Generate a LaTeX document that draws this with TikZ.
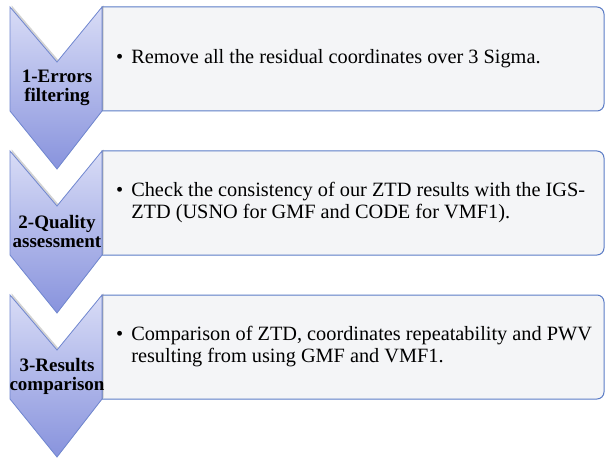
\documentclass[tikz,border=0pt]{standalone}
\usepackage{fontspec}
\setmainfont{Liberation Serif}
\usepackage{tikz}
\usetikzlibrary{shadows,calc}
\definecolor{cchevT}{HTML}{D8DCF6}
\definecolor{cchevB}{HTML}{8893DD}
\definecolor{cchevD}{HTML}{6F86CF}
\definecolor{cbox}{HTML}{F4F5F7}
\definecolor{cboxD}{HTML}{5B7CC6}
\tikzset{
  chevron/.style={draw=cchevD, line width=0.8pt, top color=cchevT, bottom color=cchevB,
                  line join=miter,
                  drop shadow={opacity=0.35, shadow xshift=1.6pt, shadow yshift=1.6pt}},
  stepbox/.style={draw=cboxD, fill=cbox, line width=1pt},
  steplbl/.style={align=center, inner sep=0pt, font=\fontsize{19}{19}\selectfont\bfseries},
  steptxt/.style={anchor=west, inner sep=0pt, font=\fontsize{20.3}{22}\selectfont},
}
\newcommand{\bitem}[2]{\begin{tabular}{@{}l@{}l@{}}\textbullet\hspace{8pt} & #1\\ & #2\end{tabular}}

\begin{document}
\begin{tikzpicture}[x=1pt, y=-1pt]
  \useasboundingbox (0,0) rectangle (606,460);
  % boxes first, the chevrons sit over their left edges
  \foreach \t in {7,151,295}{
    \draw[stepbox] (102,\t) {[rounded corners=7pt] -- (604,\t) -- (604,\t+104)} -- (102,\t+104) -- cycle;
  }
  \node[steptxt] (t1) at (116,59) {\textbullet\hspace{8pt}Remove all the residual coordinates over 3 Sigma.};
  \node[steptxt] (t2) at (116,203) {\bitem{Check the consistency of our ZTD results with the IGS-}{ZTD (USNO for GMF and CODE for VMF1).}};
  \node[steptxt] (t3) at (116,347) {\bitem{Comparison of ZTD, coordinates repeatability and PWV}{resulting from using GMF and VMF1.}};
  % chevrons
  \foreach \t in {7,151,295}{
    \draw[chevron] (10,\t) -- (57,\t+55) -- (102,\t) -- (102,\t+104) -- (57,\t+162) -- (10,\t+104) -- cycle;
  }
  \node[steplbl] (s1) at (57,88) {1-Errors\\filtering};
  \node[steplbl] (s2) at (57,232) {2-Quality\\assessment};
  \node[steplbl] (s3) at (57,376) {3-Results\\comparison};
\end{tikzpicture}
\end{document}
